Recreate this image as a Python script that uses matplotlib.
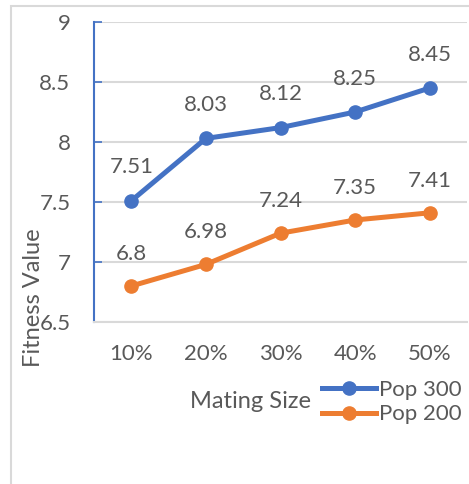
import matplotlib
matplotlib.use("Agg")
import matplotlib.pyplot as plt
from matplotlib.patches import Rectangle
from matplotlib.lines import Line2D

plt.rcParams['font.family'] = ['Lato', 'DejaVu Sans']

categories = ["10%", "20%", "30%", "40%", "50%"]
pop300 = [7.51, 8.03, 8.12, 8.25, 8.45]
pop200 = [6.8, 6.98, 7.24, 7.35, 7.41]
yticks = [6.5, 7, 7.5, 8, 8.5, 9]
ytick_labels = ["6.5", "7", "7.5", "8", "8.5", "9"]

BLUE = "#4472C4"
ORANGE = "#ED7D31"
TEXT = "#595959"
GRID = "#D9D9D9"

W, H = 469, 484
fig = plt.figure(figsize=(W / 100, H / 100), dpi=100)

# chart area border
fig.patches.append(Rectangle((10.5 / W, -0.1), 1.2, (H - 5.5) / H + 0.1,
                             transform=fig.transFigure, fill=False,
                             edgecolor=GRID, linewidth=1.5))

ax = fig.add_axes([94 / W, 1 - 322 / H, (467 - 94) / W, 300 / H])
x = range(len(categories))
ax.plot(x, pop300, color=BLUE, lw=3.6, marker='o', ms=9.5, solid_capstyle='round', zorder=3)
ax.plot(x, pop200, color=ORANGE, lw=3.6, marker='o', ms=9.5, solid_capstyle='round', zorder=3)

for xi, v in zip(x, pop300):
    ax.annotate(f"{v:g}", (xi, v), xytext=(0, 24), textcoords='offset points',
                ha='center', va='center', fontsize=16, color=TEXT)
for xi, v in zip(x, pop200):
    ax.annotate(f"{v:g}", (xi, v), xytext=(0, 23), textcoords='offset points',
                ha='center', va='center', fontsize=16, color=TEXT)

ax.set_xlim(-0.5, len(categories) - 0.5)
ax.set_ylim(6.5, 9)
ax.set_yticks(yticks)
ax.set_yticklabels(ytick_labels)
ax.set_xticks(list(x))
ax.set_xticklabels(categories)
ax.grid(axis='y', color=GRID, lw=1.5)
ax.set_axisbelow(True)
for s in ['top', 'right']:
    ax.spines[s].set_visible(False)
ax.spines['bottom'].set_color(GRID)
ax.spines['bottom'].set_linewidth(1.5)
ax.spines['left'].set_color(BLUE)
ax.spines['left'].set_linewidth(1.5)
ax.tick_params(axis='y', direction='in', length=6, width=1.2, color=BLUE,
               labelsize=16, labelcolor=TEXT, pad=17)
ax.tick_params(axis='x', length=0, labelsize=16, labelcolor=TEXT, pad=16)

fig.text(250 / W, 1 - 402 / H, "Mating Size", ha='center', va='center',
         fontsize=17, color=TEXT)
fig.text(33 / W, 1 - 298 / H, "Fitness Value", ha='center', va='center',
         rotation=90, fontsize=17, color=TEXT)

handles = [Line2D([], [], color=BLUE, lw=3.6, marker='o', ms=9.5),
           Line2D([], [], color=ORANGE, lw=3.6, marker='o', ms=9.5)]
fig.legend(handles, ["Pop 300", "Pop 200"], loc='center left',
           bbox_to_anchor=(322 / W, 1 - 402 / H), frameon=False,
           fontsize=16, labelcolor=TEXT, handlelength=2.43, handletextpad=0.15,
           labelspacing=0.22, borderpad=0, borderaxespad=0)

fig.savefig("out.png", dpi=100)
